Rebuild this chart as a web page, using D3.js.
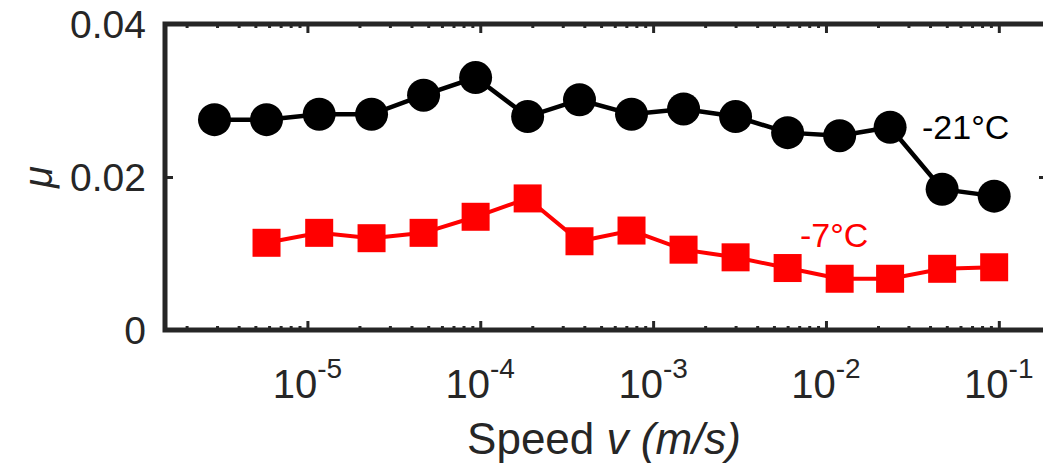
<!DOCTYPE html>
<html>
<head>
<meta charset="utf-8">
<script src="https://cdn.jsdelivr.net/npm/d3@7"></script>
<style>
  body { margin: 0; background: #fff; }
  svg { display: block; }
  text { font-family: "Liberation Sans", Arial, sans-serif; }
</style>
</head>
<body>
<svg id="chart" width="1043" height="471"></svg>
<script>
// speeds (m/s)
const speeds = [2.9e-6, 5.8e-6, 1.17e-5, 2.35e-5, 4.7e-5, 9.4e-5, 1.88e-4, 3.75e-4,
  7.5e-4, 1.5e-3, 3.0e-3, 6.0e-3, 1.2e-2, 2.35e-2, 4.7e-2, 9.4e-2];

// friction coefficient at -21 C (all 16 speeds)
const mu21 = [0.0275, 0.0275, 0.0282, 0.0282, 0.0307, 0.0330, 0.0279, 0.0301,
  0.0282, 0.0289, 0.0279, 0.0258, 0.0254, 0.0265, 0.0184, 0.0175];

// friction coefficient at -7 C (starts at the second speed)
const mu7 = [0.0114, 0.0127, 0.0120, 0.0127, 0.0148, 0.0172, 0.0116, 0.0130,
  0.0105, 0.0095, 0.0081, 0.0067, 0.0067, 0.0080, 0.0082];

const yTicks = [0, 0.02, 0.04];
const xMajor = [1e-5, 1e-4, 1e-3, 1e-2, 1e-1];
const xExponents = ["-5", "-4", "-3", "-2", "-1"];

const svg = d3.select('#chart');
const axisColor = '#262626';

const box = { left: 165, right: 1047, top: 24, bottom: 330 };

const x = d3.scaleLog().domain([1.5e-6, 0.19]).range([box.left, box.right]);
const y = d3.scaleLinear().domain([0, 0.04]).range([box.bottom, box.top]);

// minor ticks 2..9 x 10^k inside the domain
const xMinor = [];
for (let k = -6; k <= -1; k++) {
  for (let m = 2; m <= 9; m++) {
    const v = m * Math.pow(10, k);
    if (v > x.domain()[0] && v < x.domain()[1]) xMinor.push(v);
  }
}

function styleAxis(g) {
  g.select('.domain').remove();
  g.selectAll('line').attr('stroke', axisColor).attr('stroke-width', 3);
  g.selectAll('text').remove();
}

// bottom + top axes (ticks point inward)
svg.append('g').attr('transform', `translate(0,${box.bottom})`)
  .call(d3.axisBottom(x).tickValues(xMinor).tickSize(-4)).call(styleAxis);
svg.append('g').attr('transform', `translate(0,${box.bottom})`)
  .call(d3.axisBottom(x).tickValues(xMajor).tickSize(-9)).call(styleAxis);
svg.append('g').attr('transform', `translate(0,${box.top})`)
  .call(d3.axisTop(x).tickValues(xMinor).tickSize(-4)).call(styleAxis);
svg.append('g').attr('transform', `translate(0,${box.top})`)
  .call(d3.axisTop(x).tickValues(xMajor).tickSize(-9)).call(styleAxis);

// left + right axes
svg.append('g').attr('transform', `translate(${box.left},0)`)
  .call(d3.axisLeft(y).tickValues(yTicks).tickSize(-8)).call(styleAxis);
svg.append('g').attr('transform', `translate(${box.right},0)`)
  .call(d3.axisRight(y).tickValues(yTicks).tickSize(-8)).call(styleAxis);

// box
svg.append('rect')
  .attr('x', box.left).attr('y', box.top)
  .attr('width', box.right - box.left).attr('height', box.bottom - box.top)
  .attr('fill', 'none')
  .attr('stroke', axisColor)
  .attr('stroke-width', 5);

// y tick labels
svg.selectAll('.ylab')
  .data(yTicks)
  .enter()
  .append('text')
  .attr('x', 146)
  .attr('y', d => y(d))
  .attr('dy', '0.36em')
  .attr('text-anchor', 'end')
  .attr('font-size', 39)
  .attr('fill', axisColor)
  .text(d => d === 0 ? '0' : d.toFixed(2));

// x tick labels 10^k
const xl = svg.selectAll('.xlab')
  .data(xMajor)
  .enter()
  .append('text')
  .attr('x', d => x(d))
  .attr('y', 398)
  .attr('text-anchor', 'middle')
  .attr('font-size', 40)
  .attr('fill', axisColor);
xl.append('tspan').text('10');
xl.append('tspan')
  .attr('font-size', 28)
  .attr('dy', -20)
  .text((d, i) => xExponents[i]);

// axis titles
const xt = svg.append('text')
  .attr('x', 604)
  .attr('y', 454)
  .attr('text-anchor', 'middle')
  .attr('font-size', 44)
  .attr('fill', axisColor);
xt.append('tspan').text('Speed ');
xt.append('tspan').attr('font-style', 'italic').text('v (m/s)');

svg.append('text')
  .attr('transform', 'translate(52,177) rotate(-90)')
  .attr('text-anchor', 'middle')
  .attr('font-size', 40)
  .attr('font-style', 'italic')
  .attr('fill', axisColor)
  .text('μ');

// series
const line = d3.line().x(d => x(d[0])).y(d => y(d[1]));
const black = speeds.map((s, i) => [s, mu21[i]]);
const red = speeds.slice(1).map((s, i) => [s, mu7[i]]);

svg.append('path')
  .attr('d', line(black))
  .attr('fill', 'none')
  .attr('stroke', '#000')
  .attr('stroke-width', 4.5);
svg.selectAll('.dot')
  .data(black)
  .enter()
  .append('circle')
  .attr('cx', d => x(d[0]))
  .attr('cy', d => y(d[1]))
  .attr('r', 16.5)
  .attr('fill', '#000');

svg.append('path')
  .attr('d', line(red))
  .attr('fill', 'none')
  .attr('stroke', '#ff0000')
  .attr('stroke-width', 4);
const sq = 28;
svg.selectAll('.sq')
  .data(red)
  .enter()
  .append('rect')
  .attr('x', d => x(d[0]) - sq / 2)
  .attr('y', d => y(d[1]) - sq / 2)
  .attr('width', sq)
  .attr('height', sq)
  .attr('fill', '#ff0000');

// annotations
svg.append('text')
  .attr('x', 922).attr('y', 139)
  .attr('font-size', 34)
  .attr('fill', '#000')
  .text('-21°C');
svg.append('text')
  .attr('x', 800).attr('y', 247)
  .attr('font-size', 34)
  .attr('fill', '#ff0000')
  .text('-7°C');
</script>
</body>
</html>
